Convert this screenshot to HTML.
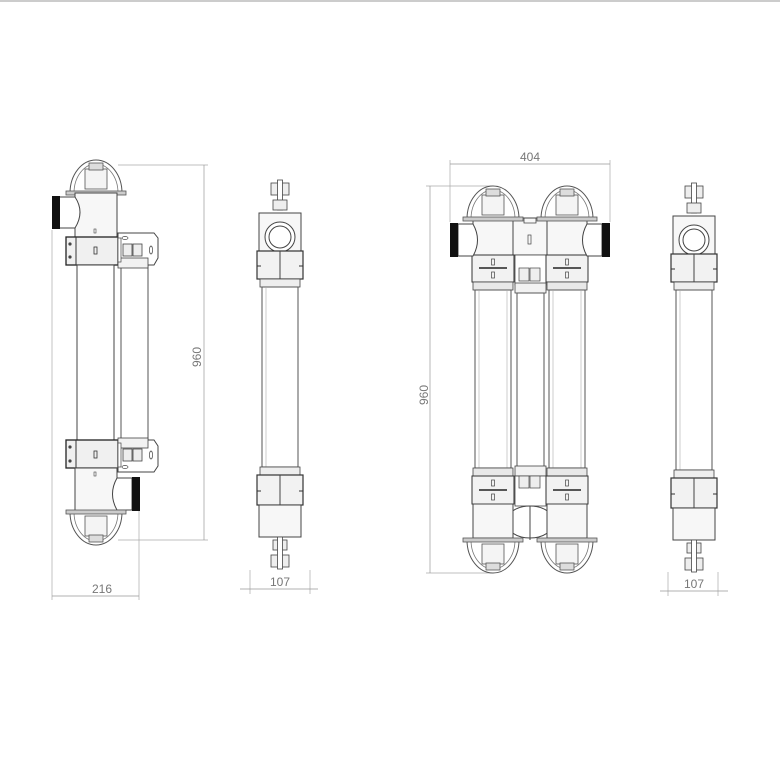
<!DOCTYPE html>
<html><head><meta charset="utf-8"><style>
html,body{margin:0;padding:0;background:#fff;}
svg{display:block;}
text{font-family:"Liberation Sans",sans-serif;fill:#777;font-size:12px;}
</style></head><body>
<svg width="780" height="780" viewBox="0 0 780 780" xmlns="http://www.w3.org/2000/svg">
<rect x="0" y="0" width="780" height="2" fill="#ccc"/>
<defs>
<g id="dome">
 <path d="M-26,0 A26,33 0 0 1 26,0" fill="none" stroke="#555" stroke-width="1"/>
 <path d="M-22,0 A22,29 0 0 1 22,0" fill="none" stroke="#777" stroke-width="0.8"/>
 <rect x="-11" y="-24" width="22" height="20" fill="#f4f4f4" stroke="#555" stroke-width="0.8"/>
 <rect x="-7" y="-30" width="14" height="7" fill="#ddd" stroke="#555" stroke-width="0.8"/>
 <rect x="-30" y="-2" width="60" height="4" fill="#ccc" stroke="#555" stroke-width="0.8"/>
</g>
<g id="side">
 <rect x="-9" y="0" width="18" height="12" fill="#eee" stroke="#444" stroke-width="0.8"/>
 <rect x="-2.5" y="-3" width="5" height="30" fill="#fff" stroke="#444" stroke-width="0.8"/>
 <rect x="-7" y="17" width="14" height="10" fill="#eee" stroke="#444" stroke-width="0.8"/>
 <rect x="-21" y="30" width="42" height="38" fill="#f7f7f7" stroke="#444" stroke-width="1"/>
 <circle cx="0" cy="54" r="15" fill="#fff" stroke="#444" stroke-width="1"/>
 <circle cx="0" cy="54" r="11" fill="#fff" stroke="#444" stroke-width="1"/>
 <rect x="-23" y="68" width="46" height="28" fill="#f2f2f2" stroke="#333" stroke-width="1.2"/>
 <line x1="0" y1="68" x2="0" y2="96" stroke="#444"/>
 <line x1="-23" y1="83" x2="-19" y2="83" stroke="#333"/><line x1="19" y1="83" x2="23" y2="83" stroke="#333"/>
 <rect x="-20" y="96" width="40" height="8" fill="#eee" stroke="#444" stroke-width="0.8"/>
 <rect x="-18" y="104" width="36" height="180" fill="#fff" stroke="#555" stroke-width="1"/>
 <line x1="-14" y1="104" x2="-14" y2="284" stroke="#aaa" stroke-width="0.6"/>
 <rect x="-20" y="284" width="40" height="8" fill="#eee" stroke="#444" stroke-width="0.8"/>
 <rect x="-23" y="292" width="46" height="30" fill="#f2f2f2" stroke="#333" stroke-width="1.2"/>
 <line x1="0" y1="292" x2="0" y2="322" stroke="#444"/>
 <line x1="-23" y1="308" x2="-19" y2="308" stroke="#333"/><line x1="19" y1="308" x2="23" y2="308" stroke="#333"/>
 <rect x="-21" y="322" width="42" height="32" fill="#f7f7f7" stroke="#444" stroke-width="1"/>
 <rect x="-7" y="357" width="14" height="10" fill="#eee" stroke="#444" stroke-width="0.8"/>
 <rect x="-9" y="372" width="18" height="12" fill="#eee" stroke="#444" stroke-width="0.8"/>
 <rect x="-2.5" y="354" width="5" height="32" fill="#fff" stroke="#444" stroke-width="0.8"/>
</g>
<g id="unit">
 <rect x="-20" y="219" width="40" height="36" fill="#f7f7f7" stroke="#444" stroke-width="1"/>
 <rect x="-21" y="255" width="42" height="27" fill="#f2f2f2" stroke="#333" stroke-width="1"/>
 <line x1="-14" y1="268" x2="14" y2="268" stroke="#222" stroke-width="1.5"/>
 <rect x="-1.5" y="259" width="3" height="6" fill="none" stroke="#444" stroke-width="0.7"/>
 <rect x="-1.5" y="272" width="3" height="6" fill="none" stroke="#444" stroke-width="0.7"/>
 <rect x="-20" y="282" width="40" height="8" fill="#e8e8e8" stroke="#444" stroke-width="0.8"/>
 <rect x="-18" y="290" width="36" height="178" fill="#fff" stroke="#555" stroke-width="1"/>
 <line x1="-14" y1="290" x2="-14" y2="468" stroke="#aaa" stroke-width="0.6"/>
 <line x1="14" y1="290" x2="14" y2="468" stroke="#aaa" stroke-width="0.6"/>
 <rect x="-20" y="468" width="40" height="8" fill="#e8e8e8" stroke="#444" stroke-width="0.8"/>
 <rect x="-21" y="476" width="42" height="28" fill="#f2f2f2" stroke="#333" stroke-width="1"/>
 <line x1="-14" y1="490" x2="14" y2="490" stroke="#222" stroke-width="1.5"/>
 <rect x="-1.5" y="480" width="3" height="6" fill="none" stroke="#444" stroke-width="0.7"/>
 <rect x="-1.5" y="494" width="3" height="6" fill="none" stroke="#444" stroke-width="0.7"/>
 <rect x="-20" y="504" width="40" height="34" fill="#f7f7f7" stroke="#444" stroke-width="1"/>
</g>
</defs>

<!-- VIEW 1 -->
<g>
 <line x1="118" y1="165" x2="208" y2="165" stroke="#aaa" stroke-width="0.7"/>
 <line x1="118" y1="540" x2="208" y2="540" stroke="#aaa" stroke-width="0.7"/>
 <line x1="204" y1="165" x2="204" y2="540" stroke="#999" stroke-width="0.7"/>
 <text transform="translate(201,357) rotate(-90)" text-anchor="middle" font-size="13">960</text>
 <line x1="52" y1="230" x2="52" y2="600" stroke="#aaa" stroke-width="0.7"/>
 <line x1="139" y1="510" x2="139" y2="600" stroke="#aaa" stroke-width="0.7"/>
 <line x1="52" y1="596" x2="139" y2="596" stroke="#999" stroke-width="0.7"/>
 <text x="102" y="593" text-anchor="middle" font-size="13">216</text>

 <rect x="121" y="266" width="27" height="176" fill="#fff" stroke="#555" stroke-width="1"/>
 <use href="#dome" x="96" y="193"/>
 <rect x="75" y="193" width="42" height="45" fill="#f7f7f7" stroke="#444" stroke-width="1"/>
 <path d="M59,197 L75,197 Q85,212 75,228 L59,228 Z" fill="#fff" stroke="#444" stroke-width="1"/>
 <rect x="52" y="196" width="8" height="33" fill="#111"/>
 <rect x="94" y="229" width="2" height="4" fill="none" stroke="#444" stroke-width="0.6"/>
 <rect x="66" y="237" width="52" height="28" fill="#f0f0f0" stroke="#222" stroke-width="1.3"/>
 <line x1="76" y1="237" x2="76" y2="265" stroke="#333"/>
 <circle cx="70" cy="244" r="1.6" fill="#444"/><circle cx="70" cy="257" r="1.6" fill="#444"/>
 <rect x="94" y="247" width="3" height="7" fill="none" stroke="#333" stroke-width="0.8"/>
 <path d="M118,233 L154,233 L158,238 L158,258 L154,265 L118,265 Z" fill="#fff" stroke="#444" stroke-width="1"/>
 <rect x="118" y="258" width="30" height="10" fill="#f2f2f2" stroke="#444" stroke-width="0.8"/>
 <rect x="123" y="244" width="9" height="12" fill="#eee" stroke="#444" stroke-width="0.8"/>
 <rect x="133" y="244" width="9" height="12" fill="#eee" stroke="#444" stroke-width="0.8"/>
 <ellipse cx="151" cy="250" rx="1.5" ry="4" fill="none" stroke="#444" stroke-width="0.7"/>
 <ellipse cx="125" cy="238" rx="3" ry="1.5" fill="none" stroke="#444" stroke-width="0.7"/>
 <rect x="118" y="238" width="3" height="24" fill="#fff" stroke="#444" stroke-width="0.7"/>
 <rect x="77" y="265" width="37" height="175" fill="#fff" stroke="#444" stroke-width="1"/>
 <rect x="66" y="440" width="52" height="28" fill="#f0f0f0" stroke="#222" stroke-width="1.3"/>
 <line x1="76" y1="440" x2="76" y2="468" stroke="#333"/>
 <circle cx="70" cy="447" r="1.6" fill="#444"/><circle cx="70" cy="461" r="1.6" fill="#444"/>
 <rect x="94" y="451" width="3" height="7" fill="none" stroke="#333" stroke-width="0.8"/>
 <path d="M118,440 L154,440 L158,446 L158,466 L154,472 L118,472 Z" fill="#fff" stroke="#444" stroke-width="1"/>
 <rect x="118" y="438" width="30" height="10" fill="#f2f2f2" stroke="#444" stroke-width="0.8"/>
 <rect x="123" y="449" width="9" height="12" fill="#eee" stroke="#444" stroke-width="0.8"/>
 <rect x="133" y="449" width="9" height="12" fill="#eee" stroke="#444" stroke-width="0.8"/>
 <ellipse cx="151" cy="455" rx="1.5" ry="4" fill="none" stroke="#444" stroke-width="0.7"/>
 <ellipse cx="125" cy="467" rx="3" ry="1.5" fill="none" stroke="#444" stroke-width="0.7"/>
 <rect x="118" y="443" width="3" height="24" fill="#fff" stroke="#444" stroke-width="0.7"/>
 <rect x="75" y="468" width="42" height="44" fill="#f7f7f7" stroke="#444" stroke-width="1"/>
 <rect x="94" y="472" width="2" height="4" fill="none" stroke="#444" stroke-width="0.6"/>
 <path d="M132,478 L117,478 Q108,494 117,510 L132,510 Z" fill="#fff" stroke="#444" stroke-width="1"/>
 <rect x="132" y="477" width="8" height="34" fill="#111"/>
 <g transform="translate(96,512) scale(1,-1)"><use href="#dome"/></g>
</g>

<!-- VIEW 2 -->
<use href="#side" x="280" y="183"/>
<line x1="250" y1="570" x2="250" y2="594" stroke="#aaa" stroke-width="0.7"/>
<line x1="310" y1="570" x2="310" y2="594" stroke="#aaa" stroke-width="0.7"/>
<line x1="240" y1="589" x2="318" y2="589" stroke="#999" stroke-width="0.7"/>
<text x="280" y="586" text-anchor="middle" font-size="11">107</text>

<!-- VIEW 3 -->
<g>
 <line x1="450" y1="160" x2="450" y2="222" stroke="#aaa" stroke-width="0.7"/>
 <line x1="610" y1="160" x2="610" y2="222" stroke="#aaa" stroke-width="0.7"/>
 <line x1="450" y1="164" x2="610" y2="164" stroke="#999" stroke-width="0.7"/>
 <text x="530" y="161" text-anchor="middle" font-size="11">404</text>
 <line x1="426" y1="186" x2="492" y2="186" stroke="#aaa" stroke-width="0.7"/>
 <line x1="426" y1="573" x2="492" y2="573" stroke="#aaa" stroke-width="0.7"/>
 <line x1="430" y1="186" x2="430" y2="573" stroke="#999" stroke-width="0.7"/>
 <text transform="translate(428,395) rotate(-90)" text-anchor="middle" font-size="11">960</text>

 <rect x="513" y="218" width="35" height="37" fill="#f7f7f7" stroke="#444" stroke-width="1"/>
 <path d="M524,218 L524,223 L536,223 L536,218" fill="none" stroke="#444" stroke-width="0.8"/>
 <rect x="528" y="235" width="3" height="9" fill="none" stroke="#444" stroke-width="0.7"/>
 <rect x="515" y="255" width="31" height="30" fill="#fff" stroke="#444" stroke-width="0.8"/>
 <rect x="519" y="268" width="10" height="13" fill="#eee" stroke="#444" stroke-width="0.7"/>
 <rect x="530" y="268" width="10" height="13" fill="#eee" stroke="#444" stroke-width="0.7"/>
 <rect x="515" y="283" width="31" height="10" fill="#f2f2f2" stroke="#444" stroke-width="0.8"/>
 <rect x="517" y="293" width="27" height="175" fill="#fff" stroke="#555" stroke-width="1"/>
 <rect x="515" y="466" width="31" height="10" fill="#f2f2f2" stroke="#444" stroke-width="0.8"/>
 <rect x="515" y="476" width="31" height="30" fill="#fff" stroke="#444" stroke-width="0.8"/>
 <rect x="519" y="476" width="10" height="12" fill="#eee" stroke="#444" stroke-width="0.7"/>
 <rect x="530" y="476" width="10" height="12" fill="#eee" stroke="#444" stroke-width="0.7"/>
 <ellipse cx="530" cy="522" rx="24" ry="16" fill="#fff" stroke="#444" stroke-width="1"/>
 <line x1="530" y1="506" x2="530" y2="540" stroke="#444"/>

 <use href="#unit" x="493" y="0"/>
 <use href="#unit" x="567" y="0"/>
 <use href="#dome" x="493" y="219"/>
 <use href="#dome" x="567" y="219"/>
 <path d="M458,224 L473,224 Q482,240 473,256 L458,256 Z" fill="#fff" stroke="#444" stroke-width="1"/>
 <rect x="450" y="223" width="8" height="34" fill="#111"/>
 <path d="M602,224 L587,224 Q578,240 587,256 L602,256 Z" fill="#fff" stroke="#444" stroke-width="1"/>
 <rect x="602" y="223" width="8" height="34" fill="#111"/>
 <g transform="translate(493,540) scale(1,-1)"><use href="#dome"/></g>
 <g transform="translate(567,540) scale(1,-1)"><use href="#dome"/></g>
</g>

<!-- VIEW 4 -->
<use href="#side" x="694" y="186"/>
<line x1="668" y1="572" x2="668" y2="596" stroke="#aaa" stroke-width="0.7"/>
<line x1="718" y1="572" x2="718" y2="596" stroke="#aaa" stroke-width="0.7"/>
<line x1="660" y1="591" x2="728" y2="591" stroke="#999" stroke-width="0.7"/>
<text x="694" y="588" text-anchor="middle" font-size="11">107</text>
</svg>
</body></html>
